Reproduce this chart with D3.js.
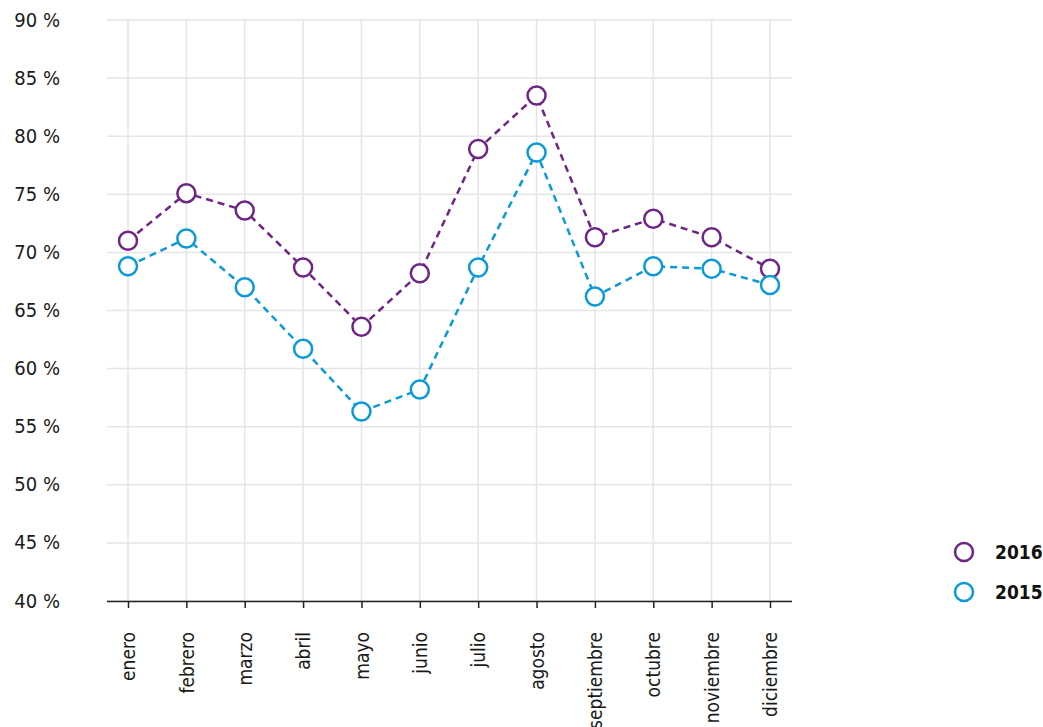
<!DOCTYPE html>
<html><head><meta charset="utf-8">
<script src="https://cdn.jsdelivr.net/npm/d3@7"></script>
<style>
body{margin:0;background:#fff;}
text{font-family:"DejaVu Sans Condensed","Open Sans",sans-serif;}
</style></head><body>
<svg id="c" width="1043" height="727"></svg>
<script>
const months = ["enero","febrero","marzo","abril","mayo","junio","julio","agosto","septiembre","octubre","noviembre","diciembre"];
const values2016 = [71.0,75.1,73.6,68.7,63.6,68.2,78.9,83.5,71.3,72.9,71.3,68.6];
const values2015 = [68.8,71.2,67.0,61.7,56.3,58.2,68.7,78.6,66.2,68.8,68.6,67.2];
const yTicks = [40,45,50,55,60,65,70,75,80,85,90];
const seriesNames = ["2016","2015"];
const colors = ["#6e2585","#0a9ad9"];

(function(){
const svg = d3.select("#c");
const pL = 107, pR = 792, pT = 20, pB = 601;
const x = d3.scalePoint().domain(months).range([128,770]);
const y = d3.scaleLinear().domain([40,90]).range([pB,pT]);
const FONT = '"DejaVu Sans Condensed",sans-serif';

// grid
svg.append("g").selectAll("line").data(yTicks).join("line")
  .attr("x1",pL).attr("x2",pR).attr("y1",d=>y(d)).attr("y2",d=>y(d))
  .attr("stroke","#e5e5e5").attr("stroke-width",1.5);
svg.append("g").selectAll("line").data(months).join("line")
  .attr("x1",d=>x(d)).attr("x2",d=>x(d)).attr("y1",pT).attr("y2",pB)
  .attr("stroke","#e5e5e5").attr("stroke-width",1.5);

// y labels
const yAxis = d3.axisLeft(y).tickValues(yTicks).tickSize(0).tickPadding(0)
  .tickFormat(d=>d+" %");
const gy = svg.append("g").attr("transform",`translate(60,0)`).call(yAxis);
gy.select(".domain").remove();
gy.selectAll("text").attr("font-size",20).attr("fill","#1a1a1a").attr("dy","0.3em")
  .style("font-family",FONT);

// x axis
const xAxis = d3.axisBottom(x).tickSize(7).tickSizeOuter(0).tickPadding(0);
const gx = svg.append("g").attr("transform",`translate(0,${pB})`).call(xAxis);
gx.select(".domain").attr("d",`M${pL},0.5H${pR}`).attr("stroke","#222").attr("stroke-width",1.5);
gx.selectAll(".tick line").attr("stroke","#222").attr("stroke-width",1.5);
gx.selectAll("text").attr("font-size",19).attr("fill","#1a1a1a")
  .attr("transform","rotate(-90)").attr("text-anchor","end")
  .attr("x",-31).attr("y",0).attr("dy","0.35em")
  .style("font-family",FONT);

// series
const data = [values2016, values2015];
const line = d3.line().x((d,i)=>x(months[i])).y(d=>y(d));
data.forEach((vals,k)=>{
  svg.append("path").datum(vals).attr("d",line).attr("fill","none")
    .attr("stroke",colors[k]).attr("stroke-width",2.5).attr("stroke-dasharray","7,5");
});
data.forEach((vals,k)=>{
  svg.append("g").selectAll("circle").data(vals).join("circle")
    .attr("cx",(d,i)=>x(months[i])).attr("cy",d=>y(d)).attr("r",9)
    .attr("fill","#fff").attr("stroke",colors[k]).attr("stroke-width",2.5);
});

// legend
const lg = svg.append("g");
seriesNames.forEach((n,k)=>{
  const yy = 552 + k*40;
  lg.append("circle").attr("cx",964).attr("cy",yy).attr("r",9)
    .attr("fill","#fff").attr("stroke",colors[k]).attr("stroke-width",2.5);
  lg.append("text").attr("x",995).attr("y",yy).attr("dy","0.35em")
    .attr("font-size",19).attr("font-weight","bold").attr("fill","#111").text(n)
    .style("font-family",FONT);
});
})();
</script></body></html>
